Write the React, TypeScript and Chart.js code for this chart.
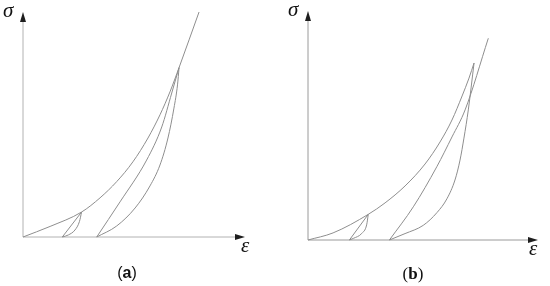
import React, { useEffect, useRef } from "react";
import { Chart, registerables } from "chart.js";

Chart.register(...registerables);

// ---------- Panel (a) data (strain ε, stress σ in arbitrary units 0..10) ----------
const envelopeAX = [0, 1.22, 2.64, 3.47, 4.22, 4.95, 5.63, 6.17, 6.62, 7.03, 7.93];
const envelopeAY = [0, 0.47, 1.11, 1.74, 2.46, 3.34, 4.4, 5.43, 6.45, 7.53, 10.0];
const loop1LineAX = [1.77, 2.64];
const loop1LineAY = [0, 1.11];
const loop1CurveAX = [1.77, 2.04, 2.34, 2.54, 2.64];
const loop1CurveAY = [0, 0.09, 0.31, 0.68, 1.11];
const loop2ReloadAX = [3.32, 4.37, 5.57, 6.25, 6.7, 7.03];
const loop2ReloadAY = [0, 1.56, 3.42, 4.89, 6.4, 7.53];
const loop2UnloadAX = [3.32, 4.22, 5.05, 5.72, 6.17, 6.53, 6.8, 6.96, 7.03];
const loop2UnloadAY = [0, 0.49, 1.29, 2.27, 3.2, 4.4, 5.73, 6.76, 7.53];

// ---------- Panel (b) data ----------
const envelopeBX = [0, 1.09, 2.62, 3.35, 4.22, 5.09, 5.74, 6.26, 6.7, 7.0, 7.22];
const envelopeBY = [0, 0.31, 1.12, 1.62, 2.36, 3.32, 4.28, 5.24, 6.29, 7.07, 7.73];
const loop1LineBX = [1.8, 2.62];
const loop1LineBY = [0, 1.12];
const loop1CurveBX = [1.8, 1.97, 2.34, 2.55, 2.62];
const loop1CurveBY = [0, 0.07, 0.29, 0.66, 1.12];
const loop2UnloadBX = [3.54, 4.22, 5.01, 5.61, 6.04, 6.39, 6.61, 6.78, 6.97, 7.22];
const loop2UnloadBY = [0, 0.28, 0.64, 1.2, 1.8, 2.62, 3.49, 4.45, 5.68, 7.73];
const loop2ReloadBX = [3.54, 4.58, 5.6, 6.26, 6.83, 7.84];
const loop2ReloadBY = [0, 1.45, 3.2, 4.5, 5.68, 8.81];

const axisMax = 10;

const zip = (xs: number[], ys: number[]) => xs.map((x, i) => ({ x, y: ys[i] }));

const LINE = "#8e8e8e";

const mkDataset = (xs: number[], ys: number[]) => ({
  data: zip(xs, ys),
  showLine: true,
  borderColor: LINE,
  borderWidth: 1,
  pointRadius: 0,
  cubicInterpolationMode: "monotone" as const,
  clip: false as const,
});

const arrowAxes = (axisColor: string) => ({
  id: "arrowAxes",
  beforeDatasetsDraw(chart: any) {
    const { ctx, scales } = chart;
    const xs = scales.x;
    const ys = scales.y;
    const x0 = xs.getPixelForValue(0);
    const y0 = ys.getPixelForValue(0);
    const x1 = xs.getPixelForValue(axisMax);
    const y1 = ys.getPixelForValue(axisMax);
    ctx.save();
    ctx.strokeStyle = axisColor;
    ctx.lineWidth = 1;
    ctx.beginPath();
    ctx.moveTo(x0, y0);
    ctx.lineTo(x0, y1 + 4);
    ctx.moveTo(x0, y0);
    ctx.lineTo(x1 - 4, y0);
    ctx.stroke();
    ctx.fillStyle = "#1e1e1e";
    ctx.beginPath();
    ctx.moveTo(x0, y1);
    ctx.lineTo(x0 - 3, y1 + 10);
    ctx.lineTo(x0 + 3, y1 + 10);
    ctx.closePath();
    ctx.fill();
    ctx.beginPath();
    ctx.moveTo(x1, y0);
    ctx.lineTo(x1 - 10, y0 - 3);
    ctx.lineTo(x1 - 10, y0 + 3);
    ctx.closePath();
    ctx.fill();
    ctx.restore();
  },
});

type PanelProps = {
  left: number;
  padding: { left: number; top: number; right: number; bottom: number };
  datasets: any[];
  axisColor: string;
};

function Panel({ left, padding, datasets, axisColor }: PanelProps) {
  const ref = useRef<HTMLCanvasElement>(null);
  useEffect(() => {
    if (!ref.current) return;
    const chart = new Chart(ref.current, {
      type: "scatter",
      data: { datasets },
      options: {
        animation: false,
        responsive: false,
        devicePixelRatio: 1,
        layout: { padding },
        plugins: { legend: { display: false }, tooltip: { enabled: false } },
        scales: {
          x: { type: "linear", min: 0, max: axisMax, display: false },
          y: { type: "linear", min: 0, max: axisMax, display: false },
        },
      },
      plugins: [arrowAxes(axisColor)],
    });
    return () => chart.destroy();
  }, []);
  return (
    <canvas
      ref={ref}
      width={275}
      height={286}
      style={{ position: "absolute", left, top: 0, width: 275, height: 286 }}
    />
  );
}

const serifItalic: React.CSSProperties = {
  position: "absolute",
  fontFamily: "'Liberation Serif', serif",
  fontStyle: "italic",
  fontSize: 21,
  lineHeight: "21px",
  color: "#111",
  whiteSpace: "nowrap",
};

export default function App() {
  const dsA = [
    mkDataset(envelopeAX, envelopeAY),
    mkDataset(loop1LineAX, loop1LineAY),
    mkDataset(loop1CurveAX, loop1CurveAY),
    mkDataset(loop2ReloadAX, loop2ReloadAY),
    mkDataset(loop2UnloadAX, loop2UnloadAY),
  ];
  const dsB = [
    mkDataset(envelopeBX, envelopeBY),
    mkDataset(loop1LineBX, loop1LineBY),
    mkDataset(loop1CurveBX, loop1CurveBY),
    mkDataset(loop2UnloadBX, loop2UnloadBY),
    mkDataset(loop2ReloadBX, loop2ReloadBY),
  ];
  return (
    <div
      style={{
        position: "absolute",
        left: 0,
        top: 0,
        width: 550,
        height: 286,
        background: "#fff",
        overflow: "hidden",
      }}
    >
      <Panel
        left={0}
        padding={{ left: 23, top: 12, right: 30, bottom: 49 }}
        datasets={dsA}
        axisColor="#b2b2b2"
      />
      <Panel
        left={275}
        padding={{ left: 33, top: 11, right: 12, bottom: 46 }}
        datasets={dsB}
        axisColor="#9a9a9a"
      />
      <span style={{ ...serifItalic, left: 3, top: 0 }}>σ</span>
      <span style={{ ...serifItalic, left: 241, top: 235 }}>ε</span>
      <span style={{ ...serifItalic, left: 288, top: -1 }}>σ</span>
      <span style={{ ...serifItalic, left: 529, top: 238 }}>ε</span>
      <div
        style={{
          position: "absolute",
          left: 97,
          top: 265,
          width: 60,
          textAlign: "center",
          fontFamily: "'Liberation Sans', sans-serif",
          fontSize: 16,
          lineHeight: "16px",
          color: "#111",
        }}
      >
        (<b>a</b>)
      </div>
      <div
        style={{
          position: "absolute",
          left: 383,
          top: 265,
          width: 60,
          textAlign: "center",
          fontFamily: "'Liberation Serif', serif",
          fontSize: 17,
          lineHeight: "17px",
          color: "#111",
        }}
      >
        (<b>b</b>)
      </div>
    </div>
  );
}
